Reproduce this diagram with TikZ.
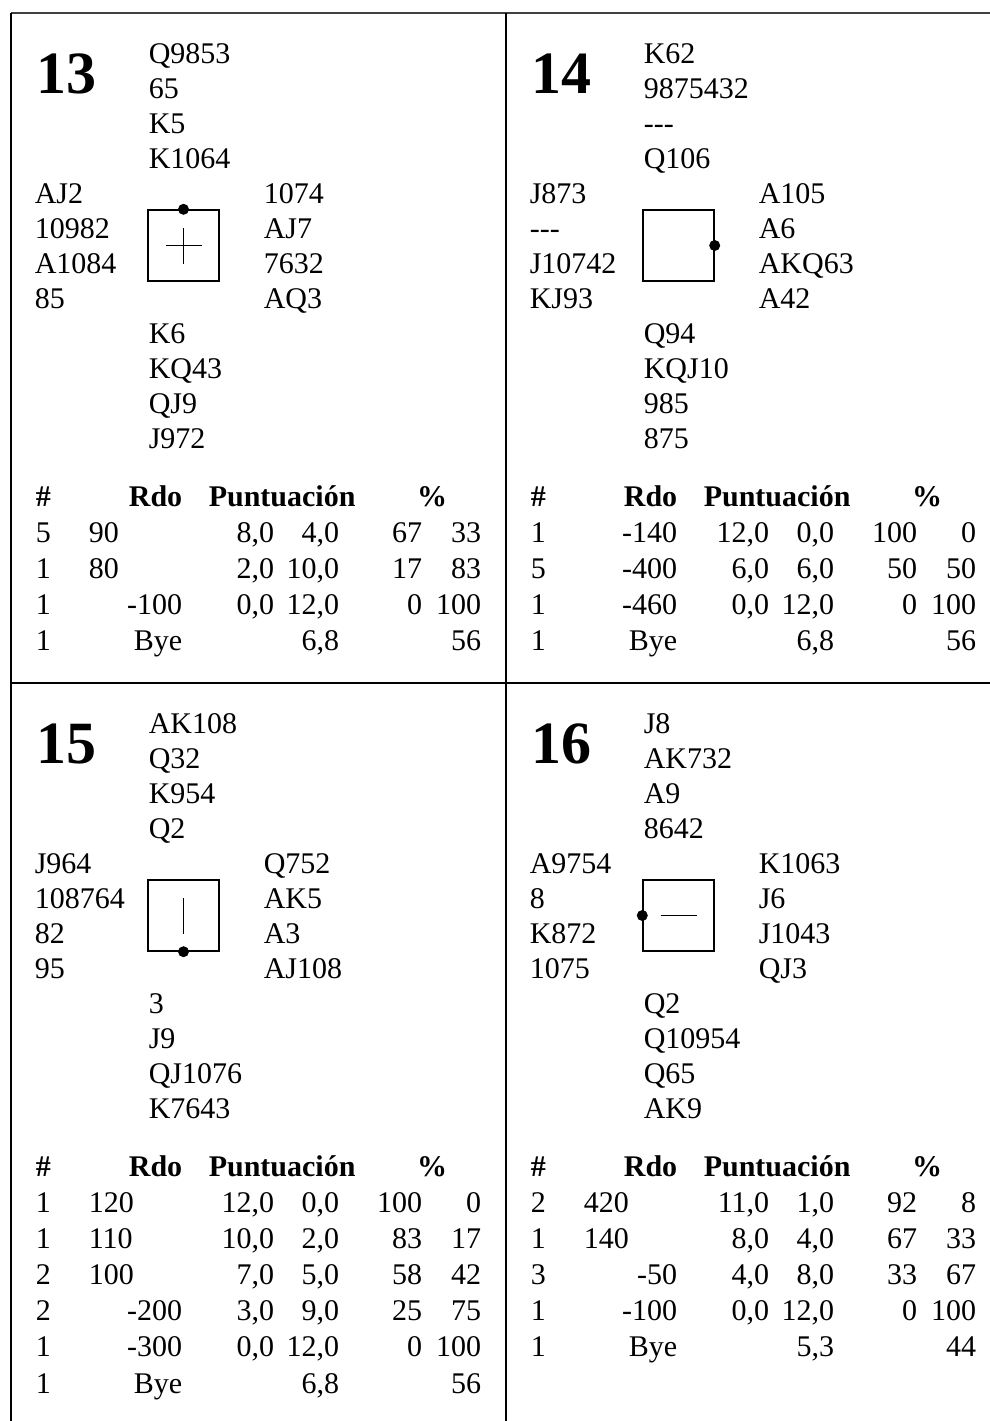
\documentclass[tikz,border=0pt]{standalone}
\usepackage{fontspec}
\setmainfont{Liberation Serif}[Ligatures=TeXOff]

\begin{document}
\begin{tikzpicture}[x=0.5pt, y=-0.5pt, line width=0.8pt,
  every node/.style={inner sep=0pt, font=\fontsize{15pt}{18pt}\selectfont},
  mano/.style={anchor=base west},
  der/.style={anchor=base east},
  cab/.style={anchor=base west, font=\fontsize{15pt}{18pt}\selectfont\bfseries},
  tit/.style={anchor=base west, font=\fontsize{30pt}{36pt}\selectfont\bfseries},
  tablero/.style={draw, line width=0.7pt, minimum size=35.5pt},
  linea/.style={line width=0.6pt}]
  \useasboundingbox (0,0) rectangle (990,1421);
  % marco de las cuatro manos
  \draw[black!75] (11,13) -- (990,13);
  \draw (11,13) -- (11,1421);
  \draw (506,13) -- (506,1421);
  \draw (11,683) -- (990,683);

  % ===== mano 13 =====
  \node[tit] (t13) at (36,93) {13};
  \foreach \c [count=\k] in {Q9853,65,K5,K1064} \node[mano] (n13-\k) at (148,{63+35*(\k-1)}) {\c};
  \foreach \c [count=\k] in {AJ2,10982,A1084,85} \node[mano] (o13-\k) at (34,{203+35*(\k-1)}) {\c};
  \foreach \c [count=\k] in {1074,AJ7,7632,AQ3} \node[mano] (e13-\k) at (263,{203+35*(\k-1)}) {\c};
  \foreach \c [count=\k] in {K6,KQ43,QJ9,J972} \node[mano] (s13-\k) at (148,{343+35*(\k-1)}) {\c};
  \node[tablero] (b13) at (183.5,245.5) {};
  \fill (b13.north) circle (2.75pt);
  \draw[linea] ([xshift=-9pt]b13.center) -- ([xshift=9pt]b13.center);
  \draw[linea] ([yshift=-9pt]b13.center) -- ([yshift=9pt]b13.center);
  % tabla
  \node[cab] (h13a) at (35,506) {\#};
  \node[cab, anchor=base east] (h13b) at (183,506) {Rdo};
  \node[cab] (h13c) at (208,506) {Puntuación};
  \node[cab, anchor=base] (h13d) at (432,506) {\%};
  \foreach \n/\ri/\rd/\pa/\pb/\qa/\qb [count=\k] in
    {5/90//{8,0}/{4,0}/67/33, 1/80//{2,0}/{10,0}/17/83,
     1//-100/{0,0}/{12,0}/0/100, 1//Bye//{6,8}//56} {
    \pgfmathsetmacro\yy{542+36.2*(\k-1)}
    \node[mano] (f13-\k) at (35,\yy) {\n};
    \node[mano] (ri13-\k) at (88,\yy) {\ri};
    \node[der] (rd13-\k) at (183,\yy) {\rd};
    \node[der] (pa13-\k) at (275,\yy) {\pa};
    \node[der] (pb13-\k) at (340,\yy) {\pb};
    \node[der] (qa13-\k) at (423,\yy) {\qa};
    \node[der] (qb13-\k) at (482,\yy) {\qb};
  }

  % ===== mano 14 =====
  \begin{scope}[shift={(495,0)}]
  \node[tit] (t14) at (36,93) {14};
  \foreach \c [count=\k] in {K62,9875432,---,Q106} \node[mano] (n14-\k) at (148,{63+35*(\k-1)}) {\c};
  \foreach \c [count=\k] in {J873,---,J10742,KJ93} \node[mano] (o14-\k) at (34,{203+35*(\k-1)}) {\c};
  \foreach \c [count=\k] in {A105,A6,AKQ63,A42} \node[mano] (e14-\k) at (263,{203+35*(\k-1)}) {\c};
  \foreach \c [count=\k] in {Q94,KQJ10,985,875} \node[mano] (s14-\k) at (148,{343+35*(\k-1)}) {\c};
  \node[tablero] (b14) at (183.5,245.5) {};
  \fill (b14.east) circle (2.75pt);
  % tabla
  \node[cab] (h14a) at (35,506) {\#};
  \node[cab, anchor=base east] (h14b) at (183,506) {Rdo};
  \node[cab] (h14c) at (208,506) {Puntuación};
  \node[cab, anchor=base] (h14d) at (432,506) {\%};
  \foreach \n/\ri/\rd/\pa/\pb/\qa/\qb [count=\k] in
    {1//-140/{12,0}/{0,0}/100/0, 5//-400/{6,0}/{6,0}/50/50,
     1//-460/{0,0}/{12,0}/0/100, 1//Bye//{6,8}//56} {
    \pgfmathsetmacro\yy{542+36.2*(\k-1)}
    \node[mano] (f14-\k) at (35,\yy) {\n};
    \node[mano] (ri14-\k) at (88,\yy) {\ri};
    \node[der] (rd14-\k) at (183,\yy) {\rd};
    \node[der] (pa14-\k) at (275,\yy) {\pa};
    \node[der] (pb14-\k) at (340,\yy) {\pb};
    \node[der] (qa14-\k) at (423,\yy) {\qa};
    \node[der] (qb14-\k) at (482,\yy) {\qb};
  }
  \end{scope}

  % ===== mano 15 =====
  \begin{scope}[shift={(0,670)}]
  \node[tit] (t15) at (36,93) {15};
  \foreach \c [count=\k] in {AK108,Q32,K954,Q2} \node[mano] (n15-\k) at (148,{63+35*(\k-1)}) {\c};
  \foreach \c [count=\k] in {J964,108764,82,95} \node[mano] (o15-\k) at (34,{203+35*(\k-1)}) {\c};
  \foreach \c [count=\k] in {Q752,AK5,A3,AJ108} \node[mano] (e15-\k) at (263,{203+35*(\k-1)}) {\c};
  \foreach \c [count=\k] in {3,J9,QJ1076,K7643} \node[mano] (s15-\k) at (148,{343+35*(\k-1)}) {\c};
  \node[tablero] (b15) at (183.5,245.5) {};
  \fill (b15.south) circle (2.75pt);
  \draw[linea] ([yshift=-9pt]b15.center) -- ([yshift=9pt]b15.center);
  % tabla
  \node[cab] (h15a) at (35,506) {\#};
  \node[cab, anchor=base east] (h15b) at (183,506) {Rdo};
  \node[cab] (h15c) at (208,506) {Puntuación};
  \node[cab, anchor=base] (h15d) at (432,506) {\%};
  \foreach \n/\ri/\rd/\pa/\pb/\qa/\qb [count=\k] in
    {1/120//{12,0}/{0,0}/100/0, 1/110//{10,0}/{2,0}/83/17,
     2/100//{7,0}/{5,0}/58/42, 2//-200/{3,0}/{9,0}/25/75,
     1//-300/{0,0}/{12,0}/0/100, 1//Bye//{6,8}//56} {
    \pgfmathsetmacro\yy{542+36.2*(\k-1)}
    \node[mano] (f15-\k) at (35,\yy) {\n};
    \node[mano] (ri15-\k) at (88,\yy) {\ri};
    \node[der] (rd15-\k) at (183,\yy) {\rd};
    \node[der] (pa15-\k) at (275,\yy) {\pa};
    \node[der] (pb15-\k) at (340,\yy) {\pb};
    \node[der] (qa15-\k) at (423,\yy) {\qa};
    \node[der] (qb15-\k) at (482,\yy) {\qb};
  }
  \end{scope}

  % ===== mano 16 =====
  \begin{scope}[shift={(495,670)}]
  \node[tit] (t16) at (36,93) {16};
  \foreach \c [count=\k] in {J8,AK732,A9,8642} \node[mano] (n16-\k) at (148,{63+35*(\k-1)}) {\c};
  \foreach \c [count=\k] in {A9754,8,K872,1075} \node[mano] (o16-\k) at (34,{203+35*(\k-1)}) {\c};
  \foreach \c [count=\k] in {K1063,J6,J1043,QJ3} \node[mano] (e16-\k) at (263,{203+35*(\k-1)}) {\c};
  \foreach \c [count=\k] in {Q2,Q10954,Q65,AK9} \node[mano] (s16-\k) at (148,{343+35*(\k-1)}) {\c};
  \node[tablero] (b16) at (183.5,245.5) {};
  \fill (b16.west) circle (2.75pt);
  \draw[linea] ([xshift=-9pt]b16.center) -- ([xshift=9pt]b16.center);
  % tabla
  \node[cab] (h16a) at (35,506) {\#};
  \node[cab, anchor=base east] (h16b) at (183,506) {Rdo};
  \node[cab] (h16c) at (208,506) {Puntuación};
  \node[cab, anchor=base] (h16d) at (432,506) {\%};
  \foreach \n/\ri/\rd/\pa/\pb/\qa/\qb [count=\k] in
    {2/420//{11,0}/{1,0}/92/8, 1/140//{8,0}/{4,0}/67/33,
     3//-50/{4,0}/{8,0}/33/67, 1//-100/{0,0}/{12,0}/0/100,
     1//Bye//{5,3}//44} {
    \pgfmathsetmacro\yy{542+36.2*(\k-1)}
    \node[mano] (f16-\k) at (35,\yy) {\n};
    \node[mano] (ri16-\k) at (88,\yy) {\ri};
    \node[der] (rd16-\k) at (183,\yy) {\rd};
    \node[der] (pa16-\k) at (275,\yy) {\pa};
    \node[der] (pb16-\k) at (340,\yy) {\pb};
    \node[der] (qa16-\k) at (423,\yy) {\qa};
    \node[der] (qb16-\k) at (482,\yy) {\qb};
  }
  \end{scope}
\end{tikzpicture}
\end{document}
